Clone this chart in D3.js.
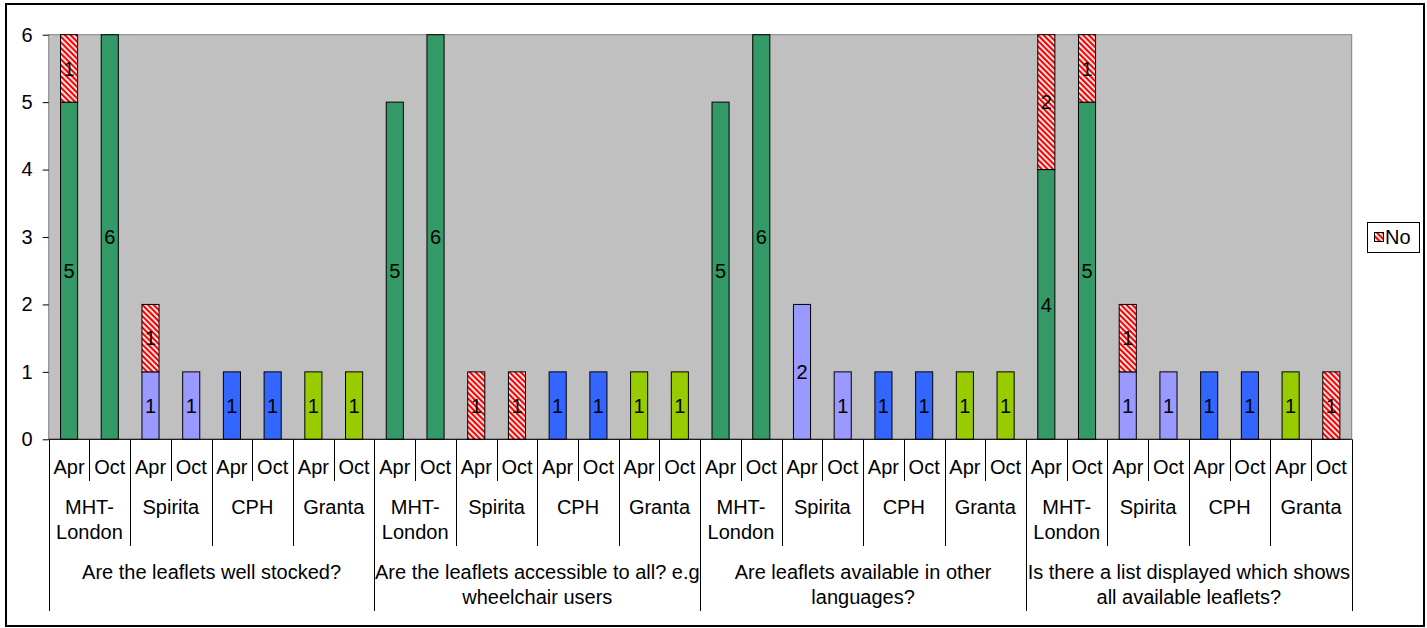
<!DOCTYPE html>
<html>
<head>
<meta charset="utf-8">
<script src="https://cdn.jsdelivr.net/npm/d3@7"></script>
<style>
  html, body { margin: 0; padding: 0; background: #fff; }
  svg text { font-family: "Liberation Sans", Arial, sans-serif; fill: #000; }
</style>
</head>
<body>
<svg id="chart" width="1427" height="628"></svg>
<script>
// Survey questions, services and visit months (axis labels, outermost first)
const questions = [
  "Are the leaflets well stocked?",
  "Are the leaflets accessible to all? e.g\nwheelchair users",
  "Are leaflets available in other\nlanguages?",
  "Is there a list displayed which shows\nall available leaflets?"
];
const services = ["MHT-\nLondon", "Spirita", "CPH", "Granta"];
const months = ["Apr", "Oct"];
const serviceColors = ["#339966", "#9999FF", "#3366FF", "#99CC00"];

// "Yes" counts, one per question × service × month (0 = no bar)
const yesValues = [
  5, 6, 1, 1, 1, 1, 1, 1,
  5, 6, 0, 0, 1, 1, 1, 1,
  5, 6, 2, 1, 1, 1, 1, 1,
  4, 5, 1, 1, 1, 1, 1, 0
];
// "No" counts stacked on top
const noValues = [
  1, 0, 1, 0, 0, 0, 0, 0,
  0, 0, 1, 1, 0, 0, 0, 0,
  0, 0, 0, 0, 0, 0, 0, 0,
  2, 1, 1, 0, 0, 0, 0, 1
];
const yTicks = [0, 1, 2, 3, 4, 5, 6];

const FONT = "20px";
const svg = d3.select("#chart");

// outer chart frame
svg.append("rect").attr("x", 6).attr("y", 4).attr("width", 1418).attr("height", 622)
  .attr("fill", "#fff").attr("stroke", "#000").attr("stroke-width", 2);

const plot = { left: 48.7, right: 1351.7, top: 34.7, bottom: 439.3 };

const cats = d3.range(yesValues.length);
const x = d3.scaleBand().domain(cats).range([plot.left, plot.right])
  .paddingInner(0.58).paddingOuter(0.29);
const y = d3.scaleLinear().domain([0, 6]).range([plot.bottom, plot.top]);

// hatch pattern for the "No" series
const defs = svg.append("defs");
const pat = defs.append("pattern").attr("id", "hatch")
  .attr("patternUnits", "userSpaceOnUse").attr("width", 4).attr("height", 4)
  .attr("patternTransform", "rotate(-45)");
pat.append("rect").attr("width", 4).attr("height", 4).attr("fill", "#fff");
pat.append("rect").attr("width", 2.2).attr("height", 4).attr("fill", "#FF0000");

// plot area
svg.append("rect").attr("x", plot.left).attr("y", plot.top)
  .attr("width", plot.right - plot.left).attr("height", plot.bottom - plot.top)
  .attr("fill", "#C0C0C0").attr("stroke", "#808080").attr("stroke-width", 1);

// y axis
const yAxis = svg.append("g").attr("transform", `translate(${plot.left},0)`)
  .call(d3.axisLeft(y).tickValues(yTicks).tickSize(6).tickPadding(10).tickFormat(d3.format("d")));
yAxis.select(".domain").remove();
yAxis.selectAll(".tick line").attr("stroke", "#000");
yAxis.selectAll(".tick text").style("font-size", FONT)
  .style("font-family", "'Liberation Sans', Arial, sans-serif");

// stacked data
const rows = cats.map(i => ({
  i,
  yes: yesValues[i],
  no: noValues[i],
  color: serviceColors[Math.floor(i / 2) % services.length]
}));

const bars = svg.append("g");
rows.forEach(r => {
  if (r.yes > 0) {
    bars.append("rect").attr("x", x(r.i)).attr("width", x.bandwidth())
      .attr("y", y(r.yes)).attr("height", y(0) - y(r.yes))
      .attr("fill", r.color).attr("stroke", "#000").attr("stroke-width", 1);
  }
  if (r.no > 0) {
    bars.append("rect").attr("x", x(r.i)).attr("width", x.bandwidth())
      .attr("y", y(r.yes + r.no)).attr("height", y(r.yes) - y(r.yes + r.no))
      .attr("fill", "url(#hatch)").attr("stroke", "#000").attr("stroke-width", 1);
  }
});

// value labels centred in each segment
const labels = svg.append("g").attr("text-anchor", "middle").style("font-size", FONT);
rows.forEach(r => {
  const cx = x(r.i) + x.bandwidth() / 2;
  if (r.yes > 0) {
    labels.append("text").attr("x", cx).attr("y", y(r.yes / 2)).attr("dy", "0.36em").text(r.yes);
  }
  if (r.no > 0) {
    labels.append("text").attr("x", cx).attr("y", y(r.yes + r.no / 2)).attr("dy", "0.36em").text(r.no);
  }
});

// category axis baseline
svg.append("line").attr("x1", plot.left).attr("x2", plot.right)
  .attr("y1", plot.bottom).attr("y2", plot.bottom).attr("stroke", "#000");

// multi-level category axis
const step = x.step();
const edge = k => plot.left + k * step;
const levelBottoms = [481, 546, 611];
const ticksG = svg.append("g");
for (let k = 0; k <= cats.length; k++) {
  let lvl = 0;
  if (k % 8 === 0) lvl = 2; else if (k % 2 === 0) lvl = 1;
  ticksG.append("line")
    .attr("x1", Math.round(edge(k)) + 0.5).attr("x2", Math.round(edge(k)) + 0.5)
    .attr("y1", plot.bottom).attr("y2", levelBottoms[lvl])
    .attr("stroke", "#000").attr("stroke-width", 1);
}

const axisText = svg.append("g").attr("text-anchor", "middle").style("font-size", FONT);
function multiline(g, cx, cy, txt, lh) {
  txt.split("\n").forEach((ln, j) => {
    g.append("text").attr("x", cx).attr("y", cy + j * lh).attr("dy", "0.36em").text(ln);
  });
}
// months
cats.forEach(i => {
  axisText.append("text").attr("x", edge(i) + step / 2).attr("y", 467).attr("dy", "0.36em")
    .text(months[i % 2]);
});
// services
for (let s = 0; s < cats.length / 2; s++) {
  multiline(axisText, edge(s * 2) + step, 507, services[s % services.length], 25);
}
// questions
questions.forEach((q, qi) => {
  multiline(axisText, edge(qi * 8) + step * 4, 572, q, 25);
});

// legend
const lg = svg.append("g");
lg.append("rect").attr("x", 1367.5).attr("y", 222.5).attr("width", 52).attr("height", 30)
  .attr("fill", "#fff").attr("stroke", "#000");
lg.append("rect").attr("x", 1374.5).attr("y", 232.5).attr("width", 9).attr("height", 9)
  .attr("fill", "url(#hatch)").attr("stroke", "#000");
lg.append("text").attr("x", 1385).attr("y", 237).attr("dy", "0.36em")
  .style("font-size", FONT).text("No");
</script>
</body>
</html>
